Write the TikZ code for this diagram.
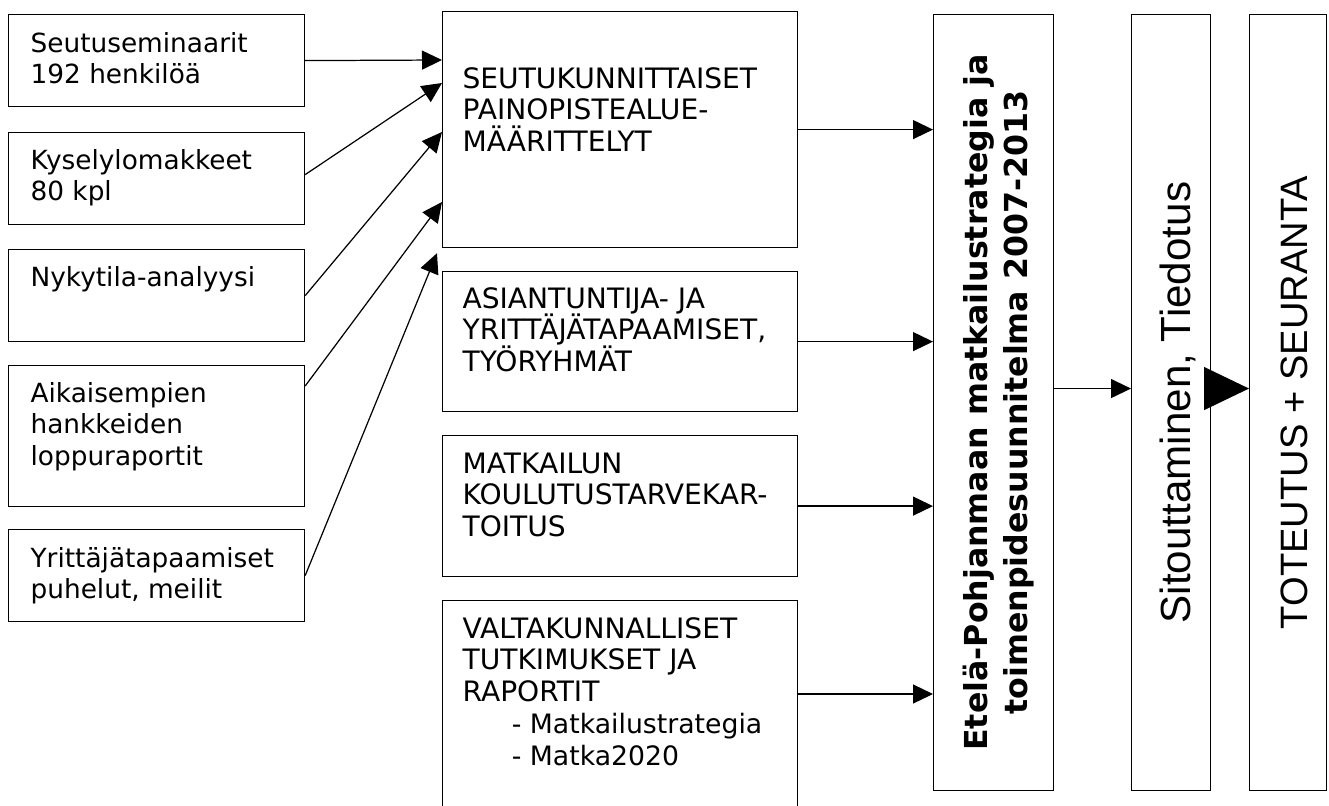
\documentclass[tikz,border=0pt]{standalone}
\usepackage{fontspec}
\setmainfont{DejaVu Sans}
\newfontfamily\arialfont{Liberation Sans}
\usetikzlibrary{arrows.meta}
\newcommand\tightlines{\lineskiplimit=-100pt\relax}

\begin{document}
\begin{tikzpicture}[x=0.02cm, y=-0.02cm, line width=0.7pt,
	box/.style={draw, rectangle, inner sep=0pt, anchor=north west},
	lefttext/.style={anchor=north west, inner sep=0pt, align=left, font=\fontsize{15}{18.2}\selectfont\tightlines},
	midtext/.style={anchor=north west, inner sep=0pt, align=left, font=\fontsize{16}{18.2}\selectfont\tightlines},
	arr/.style={-{Triangle[length=0.4cm, width=0.38cm]}},
	bigarr/.style={-{Triangle[length=0.9cm, width=0.86cm]}}]
	\useasboundingbox (0,0) rectangle (1329,805);

	% lahtotiedot
	\node[box, minimum width=5.92cm, minimum height=1.84cm] (seminaarit) at (8,14) {};
	\node[box, minimum width=5.92cm, minimum height=1.84cm] (kysely) at (8,132) {};
	\node[box, minimum width=5.92cm, minimum height=1.84cm] (nykytila) at (8,249) {};
	\node[box, minimum width=5.92cm, minimum height=2.82cm] (aiemmat) at (8,365) {};
	\node[box, minimum width=5.92cm, minimum height=1.84cm] (yrittajat) at (8,529) {};
	\node[lefttext] at ([shift={(22,15)}]seminaarit.north west) {\strut Seutuseminaarit\\192 henkilöä};
	\node[lefttext] at ([shift={(22,14)}]kysely.north west) {\strut Kyselylomakkeet\\80 kpl};
	\node[lefttext] at ([shift={(22,14)}]nykytila.north west) {\strut Nykytila-analyysi};
	\node[lefttext] at ([shift={(22,14)}]aiemmat.north west) {\strut Aikaisempien\\hankkeiden\\loppuraportit};
	\node[lefttext] at ([shift={(22,15)}]yrittajat.north west) {\strut Yrittäjätapaamiset\\puhelut, meilit};

	% keskimmaiset
	\node[box, minimum width=7.1cm, minimum height=4.72cm] (seutu) at (442,11) {};
	\node[box, minimum width=7.1cm, minimum height=2.8cm] (asiantuntija) at (442,271) {};
	\node[box, minimum width=7.1cm, minimum height=2.82cm] (koulutus) at (442,435) {};
	\node[box, minimum width=7.1cm, minimum height=4.6cm] (valtakunnalliset) at (442,600) {};
	\node[midtext] at ([shift={(20,54)}]seutu.north west) {\strut SEUTUKUNNITTAISET\\PAINOPISTEALUE-\\MÄÄRITTELYT};
	\node[midtext] at ([shift={(20,14)}]asiantuntija.north west) {\strut ASIANTUNTIJA- JA\\YRITTÄJÄTAPAAMISET,\\TYÖRYHMÄT};
	\node[midtext] at ([shift={(20,15)}]koulutus.north west) {\strut MATKAILUN\\KOULUTUSTARVEKAR-\\TOITUS};
	\node[midtext] at ([shift={(20,15)}]valtakunnalliset.north west) {\strut VALTAKUNNALLISET\\TUTKIMUKSET JA\\RAPORTIT\\
		\hspace*{28pt}{\fontsize{15.2}{18.2}\selectfont - Matkailustrategia}\\
		\hspace*{28pt}{\fontsize{15.2}{18.2}\selectfont - Matka2020}};

	% oikea reuna
	\node[box, minimum width=2.4cm, minimum height=15.52cm] (strategia) at (933,14) {};
	\node[box, minimum width=1.58cm, minimum height=15.52cm] (sitoutus) at (1131,14) {};
	\node[box, minimum width=1.54cm, minimum height=15.52cm] (toteutus) at (1249,14) {};
	\node[rotate=90, align=center, inner sep=0pt, font=\bfseries\fontsize{18}{23}\selectfont]
		at ([shift={(5,0)}]strategia.center) {Etelä-Pohjanmaan matkailustrategia ja\\toimenpidesuunnitelma 2007-2013};
	\node[rotate=90, anchor=base, inner sep=0pt, font=\arialfont\fontsize{24}{28}\selectfont]
		at ([shift={(19.5,0)}]sitoutus.center) {Sitouttaminen, Tiedotus};
	\node[rotate=90, anchor=base, inner sep=0pt, font=\arialfont\fontsize{21.7}{26}\selectfont]
		at ([shift={(19.5,0)}]toteutus.center) {TOTEUTUS + SEURANTA};

	% nuolet
	\draw[arr] (seminaarit.east) -- ([shift={(0,49)}]seutu.north west);
	\draw[arr] ([shift={(0,-4)}]kysely.east) -- ([shift={(0,72)}]seutu.north west);
	\draw[arr] (nykytila.east) -- ([shift={(0,121)}]seutu.north west);
	\draw[arr] ([shift={(0,21)}]aiemmat.north east) -- ([shift={(0,191)}]seutu.north west);
	\draw[arr] (yrittajat.east) -- ([shift={(-5,5)}]seutu.south west);

	\draw[arr] (seutu.east) -- (seutu.east -| strategia.west);
	\draw[arr] (asiantuntija.east) -- (asiantuntija.east -| strategia.west);
	\draw[arr] (koulutus.east) -- (koulutus.east -| strategia.west);
	\coordinate (valta-ulos) at ([shift={(0,94)}]valtakunnalliset.north east);
	\draw[arr] (valta-ulos) -- (valta-ulos -| strategia.west);

	\coordinate (strat-ulos) at ([shift={(0,-14)}]strategia.east);
	\draw[arr] (strat-ulos) -- (strat-ulos -| sitoutus.west);
	\draw[bigarr] (strat-ulos -| sitoutus.east) -- (strat-ulos -| toteutus.west);
\end{tikzpicture}
\end{document}
